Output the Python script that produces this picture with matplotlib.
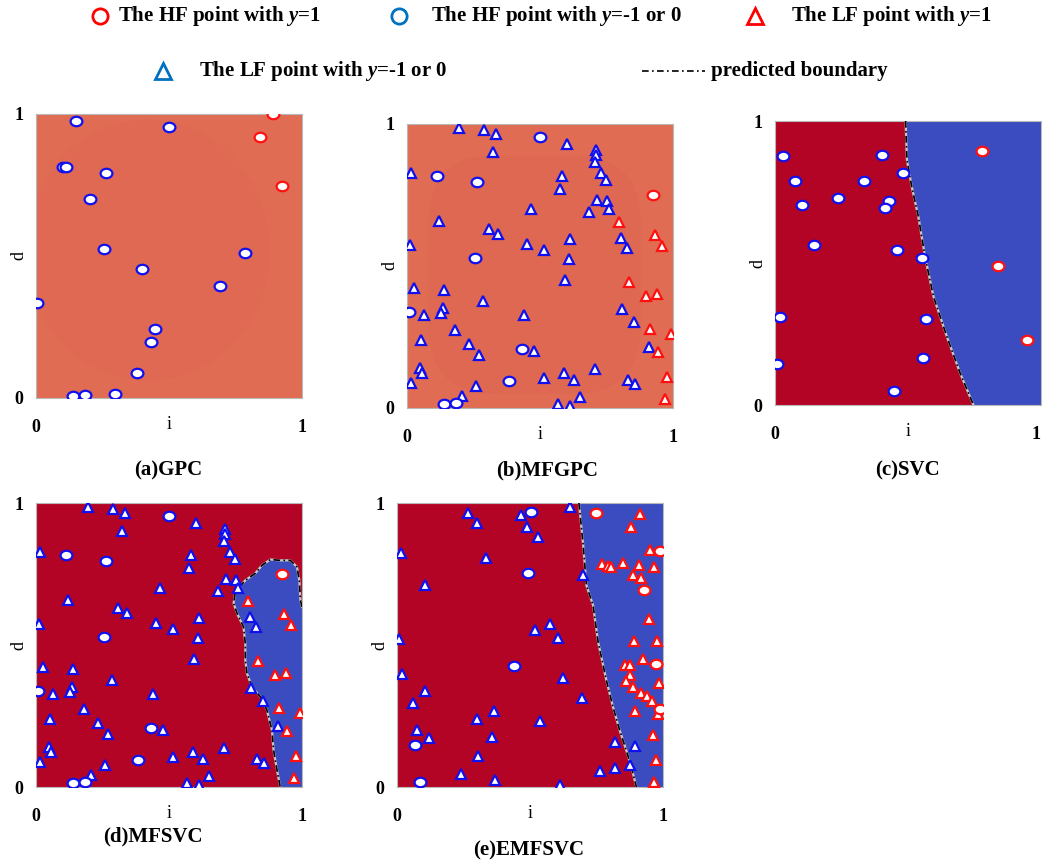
import numpy as np
import matplotlib.pyplot as plt
from matplotlib.patches import FancyBboxPatch, Circle
from matplotlib.path import Path
from matplotlib.transforms import Affine2D

plt.rcParams['font.family'] = ['Liberation Serif', 'DejaVu Serif']
plt.rcParams['font.weight'] = 'bold'
plt.rcParams['mathtext.fontset'] = 'custom'
plt.rcParams['mathtext.it'] = 'Liberation Serif:italic:bold'
plt.rcParams['mathtext.rm'] = 'Liberation Serif:bold'

# ---------------- data: (i, d) pairs ----------------
# (a) GPC, high-fidelity points
gpc_hf_neg = [(0.150, 0.975), (0.499, 0.955), (0.100, 0.814), (0.113, 0.814),
              (0.264, 0.793), (0.204, 0.699), (0.254, 0.524), (0.397, 0.455),
              (0.787, 0.509), (0.693, 0.394), (0.004, 0.333), (0.447, 0.242),
              (0.432, 0.196), (0.381, 0.087), (0.139, 0.006), (0.185, 0.012),
              (0.297, 0.015)]
gpc_hf_pos = [(0.892, 1.000), (0.841, 0.918), (0.924, 0.747)]

# (b) MFGPC and (d) MFSVC share the same samples
mf_hf_neg = [(0.499, 0.955), (0.112, 0.817), (0.263, 0.796), (0.254, 0.529),
             (0.006, 0.338), (0.434, 0.206), (0.382, 0.095), (0.139, 0.014),
             (0.184, 0.019)]
mf_hf_pos = [(0.924, 0.750)]
mf_lf_neg = [(0.194, 0.985), (0.288, 0.979), (0.336, 0.964), (0.325, 0.900),
             (0.603, 0.928), (0.711, 0.908), (0.712, 0.891), (0.706, 0.865),
             (0.015, 0.828), (0.581, 0.818), (0.728, 0.826), (0.748, 0.803),
             (0.574, 0.772), (0.714, 0.734), (0.752, 0.729), (0.758, 0.702),
             (0.683, 0.691), (0.467, 0.699), (0.119, 0.658), (0.308, 0.630),
             (0.342, 0.613), (0.803, 0.599), (0.826, 0.564), (0.451, 0.578),
             (0.516, 0.556), (0.613, 0.595), (0.608, 0.526), (0.010, 0.575),
             (0.594, 0.452), (0.025, 0.423), (0.138, 0.415), (0.287, 0.377),
             (0.808, 0.348), (0.853, 0.304), (0.134, 0.351), (0.129, 0.334),
             (0.065, 0.326), (0.441, 0.329), (0.182, 0.274), (0.054, 0.240),
             (0.233, 0.226), (0.272, 0.187), (0.476, 0.201), (0.910, 0.215),
             (0.049, 0.142), (0.056, 0.125), (0.015, 0.088), (0.258, 0.076),
             (0.207, 0.041), (0.515, 0.107), (0.590, 0.123), (0.628, 0.100),
             (0.708, 0.136), (0.832, 0.100), (0.857, 0.083), (0.650, 0.038),
             (0.569, 0.014), (0.612, 0.008)]
mf_lf_pos = [(0.798, 0.656), (0.931, 0.609), (0.957, 0.571), (0.835, 0.442),
             (0.900, 0.396), (0.941, 0.402), (0.915, 0.277), (0.994, 0.261),
             (0.942, 0.197), (0.979, 0.110), (0.971, 0.032)]

# (c) SVC
svc_hf_neg = [(0.029, 0.878), (0.404, 0.879), (0.483, 0.816), (0.075, 0.790),
              (0.335, 0.789), (0.235, 0.729), (0.428, 0.719), (0.412, 0.694),
              (0.101, 0.705), (0.145, 0.565), (0.457, 0.546), (0.551, 0.516),
              (0.019, 0.310), (0.569, 0.304), (0.006, 0.143), (0.558, 0.165),
              (0.447, 0.049)]
svc_hf_pos = [(0.777, 0.896), (0.837, 0.488), (0.949, 0.230)]
svc_bound_d = [1.000, 0.863, 0.769, 0.663, 0.522, 0.381, 0.241, 0.112, 0.000]
svc_bound_i = [0.491, 0.496, 0.514, 0.539, 0.564, 0.596, 0.646, 0.696, 0.746]

# (d) MFSVC boundary (closed blob against right edge)
mfsvc_bound_i = [1.000, 0.994, 0.990, 0.981, 0.956, 0.918, 0.881, 0.850, 0.824,
                 0.787, 0.749, 0.743, 0.756, 0.780, 0.787, 0.787, 0.793, 0.812,
                 0.843, 0.868, 0.887, 0.893, 0.906, 0.918]
mfsvc_bound_d = [0.634, 0.658, 0.728, 0.775, 0.798, 0.798, 0.801, 0.781, 0.752,
                 0.728, 0.687, 0.646, 0.611, 0.564, 0.505, 0.447, 0.400, 0.353,
                 0.318, 0.271, 0.200, 0.130, 0.060, 0.000]

# (e) EMFSVC
emf_hf_neg = [(0.502, 0.968), (0.492, 0.752), (0.439, 0.427), (0.067, 0.147),
              (0.086, 0.018)]
emf_hf_pos = [(0.747, 0.966), (0.987, 0.831), (0.927, 0.693), (0.975, 0.432),
              (0.987, 0.274)]
emf_lf_neg = [(0.266, 0.966), (0.300, 0.930), (0.466, 0.959), (0.487, 0.915),
              (0.529, 0.882), (0.016, 0.824), (0.334, 0.806), (0.107, 0.713),
              (0.519, 0.553), (0.576, 0.575), (0.605, 0.523), (0.006, 0.520),
              (0.020, 0.398), (0.625, 0.384), (0.105, 0.338), (0.062, 0.295),
              (0.364, 0.267), (0.302, 0.238), (0.538, 0.234), (0.077, 0.202),
              (0.121, 0.173), (0.358, 0.177), (0.305, 0.109), (0.240, 0.047),
              (0.370, 0.024), (0.613, 0.006), (0.652, 0.986), (0.700, 0.745),
              (0.696, 0.315), (0.819, 0.158), (0.896, 0.143), (0.762, 0.056),
              (0.819, 0.067), (0.875, 0.076)]
emf_lf_pos = [(0.912, 0.963), (0.881, 0.915), (0.952, 0.833), (0.772, 0.784),
              (0.793, 0.777), (0.806, 0.775), (0.850, 0.789), (0.909, 0.783),
              (0.965, 0.775), (0.887, 0.745), (0.916, 0.736), (0.947, 0.590),
              (0.892, 0.513), (0.978, 0.513), (0.924, 0.451), (0.856, 0.431),
              (0.875, 0.429), (0.875, 0.393), (0.860, 0.372), (0.888, 0.351),
              (0.918, 0.332), (0.939, 0.319), (0.960, 0.302), (0.985, 0.365),
              (0.980, 0.258), (0.894, 0.268), (0.961, 0.182), (0.973, 0.096),
              (0.968, 0.018)]
emf_bound_d = [1.000, 0.851, 0.710, 0.640, 0.511, 0.376, 0.282, 0.200, 0.129, 0.070, 0.000]
emf_bound_i = [0.684, 0.700, 0.712, 0.737, 0.756, 0.787, 0.812, 0.837, 0.862, 0.881, 0.900]

# ---------------- style ----------------
RED_REGION = '#b40426'
BLUE_REGION = '#3b4cc0'
GP_BG = '#e16c54'
GP_INNER = '#dc6550'
PT_BLUE = '#1010ee'
PT_RED = '#ff1010'
LEG_BLUE = '#0070c0'
LEG_RED = '#ff0000'

ellipse = Path.unit_circle().transformed(Affine2D().scale(1.0, 0.8))

W, H = 1042, 861
fig = plt.figure(figsize=(W / 100, H / 100), dpi=100)


def px_axes(x0, y0, x1, y1):
    return fig.add_axes([x0 / W, 1 - y1 / H, (x1 - x0) / W, (y1 - y0) / H])


def setup(ax):
    ax.set_xlim(0, 1)
    ax.set_ylim(0, 1)
    ax.set_xticks([0, 1])
    ax.set_yticks([0, 1])
    ax.set_xticklabels(['0', '1'])
    ax.set_yticklabels(['0', '1'])
    ax.tick_params(axis='x', length=0, pad=15, labelsize=13)
    ax.tick_params(axis='y', length=0, pad=9, labelsize=13)
    ax.set_xlabel('i', fontsize=13)
    ax.set_ylabel('d', fontsize=13)
    ax.xaxis.set_label_coords(0.5, -0.095)
    ax.xaxis.label.set_va('center')
    ax.yaxis.set_label_coords(-0.065, 0.5)
    ax.yaxis.label.set_va('center')
    for s in ax.spines.values():
        s.set_color('#b8b8b8')
        s.set_linewidth(0.8)


def points(ax, pts, kind, edge):
    arr = np.array(pts)
    if kind == 'hf':
        ax.plot(arr[:, 0], arr[:, 1], ls='none', marker=ellipse, ms=8.5,
                mfc='white', mec=edge, mew=1.6, zorder=5)
    else:
        ax.plot(arr[:, 0], arr[:, 1], ls='none', marker='^', ms=7.5,
                mfc='white', mec=edge, mew=1.6, zorder=5)


def boundary(ax, bi, bd):
    ax.plot(bi, bd, color='#c8c8c8', lw=1.6, zorder=3)
    ax.plot(bi, bd, color='black', lw=1.2, ls=(0, (4, 2, 1, 2)), zorder=4)


# (a) GPC
ax_a = px_axes(36, 114, 302, 398)
setup(ax_a)
ax_a.set_facecolor(GP_BG)
ax_a.add_patch(Circle((0.42, 0.52), 0.46, color=GP_INNER, alpha=0.3, lw=0, zorder=1))
points(ax_a, gpc_hf_neg, 'hf', PT_BLUE)
points(ax_a, gpc_hf_pos, 'hf', PT_RED)

# (b) MFGPC
ax_b = px_axes(407, 124, 673, 408)
setup(ax_b)
ax_b.set_facecolor(GP_BG)
ax_b.add_patch(FancyBboxPatch((0.15, 0.12), 0.66, 0.70, boxstyle='round,pad=0.07,rounding_size=0.25',
                              color=GP_INNER, alpha=0.5, lw=0, zorder=1))
points(ax_b, mf_lf_neg, 'lf', PT_BLUE)
points(ax_b, mf_lf_pos, 'lf', PT_RED)
points(ax_b, mf_hf_neg, 'hf', PT_BLUE)
points(ax_b, mf_hf_pos, 'hf', PT_RED)

# (c) SVC
ax_c = px_axes(775, 121, 1041, 405)
setup(ax_c)
ax_c.fill_betweenx(svc_bound_d, 0, svc_bound_i, color=RED_REGION, lw=0, zorder=1)
ax_c.fill_betweenx(svc_bound_d, svc_bound_i, 1, color=BLUE_REGION, lw=0, zorder=1)
boundary(ax_c, svc_bound_i, svc_bound_d)
points(ax_c, svc_hf_neg, 'hf', PT_BLUE)
points(ax_c, svc_hf_pos, 'hf', PT_RED)
ax_c.get_xticklabels()[1].set_ha('right')

# (d) MFSVC
ax_d = px_axes(36, 503, 302, 787)
setup(ax_d)
ax_d.set_facecolor(RED_REGION)
ax_d.fill(mfsvc_bound_i + [1.0], mfsvc_bound_d + [0.0], color=BLUE_REGION, lw=0, zorder=1)
boundary(ax_d, mfsvc_bound_i, mfsvc_bound_d)
points(ax_d, mf_lf_neg, 'lf', PT_BLUE)
points(ax_d, mf_lf_pos, 'lf', PT_RED)
points(ax_d, mf_hf_neg, 'hf', PT_BLUE)
points(ax_d, mf_hf_pos, 'hf', PT_RED)

# (e) EMFSVC
ax_e = px_axes(397, 503, 663, 787)
setup(ax_e)
ax_e.fill_betweenx(emf_bound_d, 0, emf_bound_i, color=RED_REGION, lw=0, zorder=1)
ax_e.fill_betweenx(emf_bound_d, emf_bound_i, 1, color=BLUE_REGION, lw=0, zorder=1)
boundary(ax_e, emf_bound_i, emf_bound_d)
points(ax_e, emf_lf_neg, 'lf', PT_BLUE)
points(ax_e, emf_lf_pos, 'lf', PT_RED)
points(ax_e, emf_hf_neg, 'hf', PT_BLUE)
points(ax_e, emf_hf_pos, 'hf', PT_RED)

# panel captions
caption_kw = dict(ha='center', va='center', fontsize=15, fontweight='bold')
fig.text(168 / W, 1 - 470 / H, '(a)GPC', **caption_kw)
fig.text(547 / W, 1 - 470 / H, '(b)MFGPC', **caption_kw)
fig.text(907 / W, 1 - 470 / H, '(c)SVC', **caption_kw)
fig.text(153 / W, 1 - 836 / H, '(d)MFSVC', **caption_kw)
fig.text(529 / W, 1 - 850 / H, '(e)EMFSVC', **caption_kw)

# legend drawn in pixel space across the top
lax = fig.add_axes([0, 1 - 90 / H, 1, 90 / H])
lax.set_xlim(0, W)
lax.set_ylim(90, 0)
lax.axis('off')
leg_kw = dict(ha='left', va='center', fontsize=15, fontweight='bold')
lax.plot(100, 16, 'o', ms=11, mfc='none', mec=LEG_RED, mew=2)
lax.text(118, 16, r'The HF point with $y$=1', **leg_kw)
lax.plot(399, 16, 'o', ms=11, mfc='none', mec=LEG_BLUE, mew=2)
lax.text(431, 16, r'The HF point with $y$=-1 or 0', **leg_kw)
lax.plot(755, 16, '^', ms=11, mfc='none', mec=LEG_RED, mew=2)
lax.text(791, 16, r'The LF point with $y$=1', **leg_kw)
lax.plot(163, 71, '^', ms=11, mfc='none', mec=LEG_BLUE, mew=2)
lax.text(199, 71, r'The LF point with $y$=-1 or 0', **leg_kw)
lax.plot([642, 705], [71, 71], color='black', lw=1.2, ls=(0, (4, 2, 1, 2)))
lax.text(711, 71, 'predicted boundary', **leg_kw)

fig.savefig('out.png', dpi=100)
